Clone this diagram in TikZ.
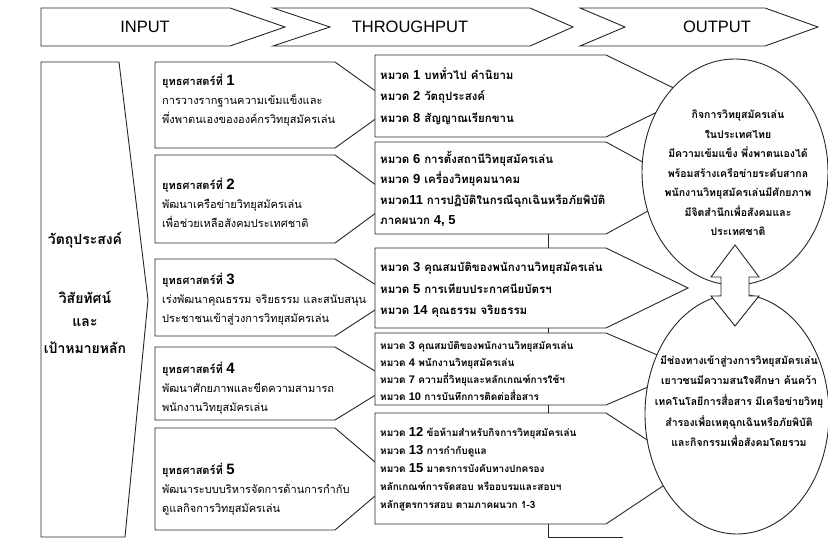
\documentclass[tikz,border=0pt]{standalone}
\usepackage{fontspec}
\setmainfont[Script=Thai]{Loma}
\newfontfamily\hdfont{Liberation Sans}
\usetikzlibrary{positioning}
\newcommand{\yuthnum}[1]{{\bfseries ยุทธศาสตร์ที่}~{\hdfont\bfseries\fontsize{15}{15}\selectfont #1}}
\newcommand{\hmuad}[1]{หมวด~{\hdfont\bfseries\fontsize{13}{13}\selectfont #1}}
\newcommand{\hmuads}[1]{หมวด~{\hdfont\bfseries\fontsize{11}{11}\selectfont #1}}

\begin{document}
\begin{tikzpicture}[x=1pt, y=-1pt,
    frame/.style={draw=black!85, line width=0.9pt, fill=white, line join=miter},
    tie/.style={draw=black!85, line width=0.9pt},
    headtxt/.style={font=\hdfont\fontsize{16.5}{16.5}\selectfont},
    goaltxt/.style={font=\bfseries\fontsize{14}{14}\selectfont},
    strattxt/.style={anchor=west, align=left, inner sep=0pt,
        font=\fontsize{11}{19}\selectfont},
    chaptxt/.style={anchor=west, align=left, inner sep=0pt,
        font=\bfseries\fontsize{11.5}{21.5}\selectfont},
    chapsmall/.style={anchor=west, align=left, inner sep=0pt,
        font=\bfseries\fontsize{10}{17}\selectfont},
    ringtxt/.style={align=center, inner sep=0pt,
        font=\bfseries\fontsize{10.5}{19.5}\selectfont}
  ]
  \useasboundingbox[fill=white] (0,0) rectangle (828,540);

  % header arrows
  \draw[frame] (41,8) -- (230,8) -- (285,27) -- (230,46) -- (41,46) -- cycle;
  \draw[frame] (273,8) -- (530,8) -- (573,27) -- (530,46) -- (273,46) -- (330,27) -- cycle;
  \draw[frame] (580,8) -- (765,8) -- (818,27) -- (765,46) -- (580,46) -- (625,27) -- cycle;
  \node[headtxt] (input) at (145,27) {INPUT};
  \node[headtxt] (through) at (410,27) {THROUGHPUT};
  \node[headtxt] (output) at (717,27) {OUTPUT};

  % left block
  \draw[frame] (41,62) -- (119,62) -- (148,300) -- (125,537) -- (41,537) -- cycle;
  \node[goaltxt] (obj) at (85,240) {วัตถุประสงค์};
  \node[goaltxt] (vis) at (85,297) {วิสัยทัศน์};
  \node[goaltxt] (and) at (85,323) {และ};
  \node[goaltxt] (goal) at (85,348) {เป้าหมายหลัก};

  % strategies
  \draw[frame] (155,62) -- (335,62) -- (395,105) -- (335,148) -- (155,148) -- cycle;
  \draw[frame] (155,155) -- (335,155) -- (395,199) -- (335,243) -- (155,243) -- cycle;
  \draw[frame] (155,259) -- (335,259) -- (395,297) -- (335,336) -- (155,336) -- cycle;
  \draw[frame] (155,347) -- (335,347) -- (395,383) -- (335,420) -- (155,420) -- cycle;
  \draw[frame] (155,428) -- (335,428) -- (395,479) -- (335,530) -- (155,530) -- cycle;

  % chapters
  \coordinate (c2b) at (548,234); \coordinate (c3t) at (548,248);
  \coordinate (c3b) at (548,328); \coordinate (c4t) at (548,333);
  \coordinate (c4b) at (548,405); \coordinate (c5t) at (548,413);
  \coordinate (c5b) at (548,524); \coordinate (c5e) at (623,537);
  \draw[tie] (c2b) -- (c3t);
  \draw[tie] (c3b) -- (c4t);
  \draw[tie] (c4b) -- (c5t);
  \draw[tie] (c5b) |- (c5e);
  \draw[frame] (375,55) -- (606,55) -- (690,96) -- (606,137) -- (375,137) -- cycle;
  \draw[frame] (375,142) -- (606,142) -- (690,188) -- (606,234) -- (375,234) -- cycle;
  \draw[frame] (375,248) -- (606,248) -- (688,288) -- (606,328) -- (375,328) -- cycle;
  \draw[frame] (375,333) -- (606,333) -- (690,369) -- (606,405) -- (375,405) -- cycle;
  \draw[frame] (375,413) -- (606,413) -- (690,468) -- (606,524) -- (375,524) -- cycle;

  % outcomes
  \draw[frame] (735,172) ellipse [x radius=93, y radius=113];
  \draw[frame] (737,414) ellipse [x radius=92, y radius=120];
  \draw[frame] (735,245) -- (759,277) -- (749,277) -- (749,296) -- (759,296)
    -- (735,326) -- (711,296) -- (721,296) -- (721,277) -- (711,277) -- cycle;

  \node[strattxt] (s1) at (162,100) {\yuthnum{1}\\
    การวางรากฐานความเข้มแข็งและ\\
    พึ่งพาตนเองขององค์กรวิทยุสมัครเล่น};
  \node[strattxt] (s2) at (162,203) {\yuthnum{2}\\
    พัฒนาเครือข่ายวิทยุสมัครเล่น\\
    เพื่อช่วยเหลือสังคมประเทศชาติ};
  \node[strattxt] (s3) at (162,299) {\yuthnum{3}\\
    เร่งพัฒนาคุณธรรม จริยธรรม และสนับสนุน\\
    ประชาชนเข้าสู่วงการวิทยุสมัครเล่น};
  \node[strattxt] (s4) at (162,388) {\yuthnum{4}\\
    พัฒนาศักยภาพและขีดความสามารถ\\
    พนักงานวิทยุสมัครเล่น};
  \node[strattxt] (s5) at (162,489) {\yuthnum{5}\\
    พัฒนาระบบบริหารจัดการด้านการกำกับ\\
    ดูแลกิจการวิทยุสมัครเล่น};

  \node[chaptxt] (c1) at (380,96) {\hmuad{1} บททั่วไป คำนิยาม\\
    \hmuad{2} วัตถุประสงค์\\
    \hmuad{8} สัญญาณเรียกขาน};
  \node[chaptxt, font=\bfseries\fontsize{11.5}{20.5}\selectfont] (c2) at (380,189)
    {\hmuad{6} การตั้งสถานีวิทยุสมัครเล่น\\
    \hmuad{9} เครื่องวิทยุคมนาคม\\
    หมวด{\hdfont\bfseries\fontsize{13}{13}\selectfont 11} การปฏิบัติในกรณีฉุกเฉินหรือภัยพิบัติ\\
    ภาคผนวก {\hdfont\bfseries\fontsize{13}{13}\selectfont 4, 5}};
  \node[chaptxt] (c3) at (380,290) {\hmuad{3} คุณสมบัติของพนักงานวิทยุสมัครเล่น\\
    \hmuad{5} การเทียบประกาศนียบัตรฯ\\
    \hmuad{14} คุณธรรม จริยธรรม};
  \node[chapsmall, font=\bfseries\fontsize{10}{16.7}\selectfont] (c4) at (380,371)
    {\hmuads{3} คุณสมบัติของพนักงานวิทยุสมัครเล่น\\
    \hmuads{4} พนักงานวิทยุสมัครเล่น\\
    \hmuads{7} ความถี่วิทยุและหลักเกณฑ์การใช้ฯ\\
    \hmuads{10} การบันทึกการติดต่อสื่อสาร};
  \node[chapsmall, font=\bfseries\fontsize{10}{18}\selectfont] (c5) at (380,469)
    {\hmuad{12} ข้อห้ามสำหรับกิจการวิทยุสมัครเล่น\\
    \hmuad{13} การกำกับดูแล\\
    \hmuad{15} มาตรการบังคับทางปกครอง\\
    หลักเกณฑ์การจัดสอบ หรืออบรมและสอบฯ\\
    หลักสูตรการสอบ ตามภาคผนวก 1-3};

  \node[ringtxt] (vision) at (738,173) {กิจการวิทยุสมัครเล่น\\
    ในประเทศไทย\\
    มีความเข้มแข็ง พึ่งพาตนเองได้\\
    พร้อมสร้างเครือข่ายระดับสากล\\
    พนักงานวิทยุสมัครเล่นมีศักยภาพ\\
    มีจิตสำนึกเพื่อสังคมและ\\
    ประเทศชาติ};
  \node[ringtxt, font=\bfseries\fontsize{10.5}{20.7}\selectfont] (reach) at (739,401)
    {มีช่องทางเข้าสู่วงการวิทยุสมัครเล่น\\
    เยาวชนมีความสนใจศึกษา ค้นคว้า\\
    เทคโนโลยีการสื่อสาร มีเครือข่ายวิทยุ\\
    สำรองเพื่อเหตุฉุกเฉินหรือภัยพิบัติ\\
    และกิจกรรมเพื่อสังคมโดยรวม};
\end{tikzpicture}
\end{document}
